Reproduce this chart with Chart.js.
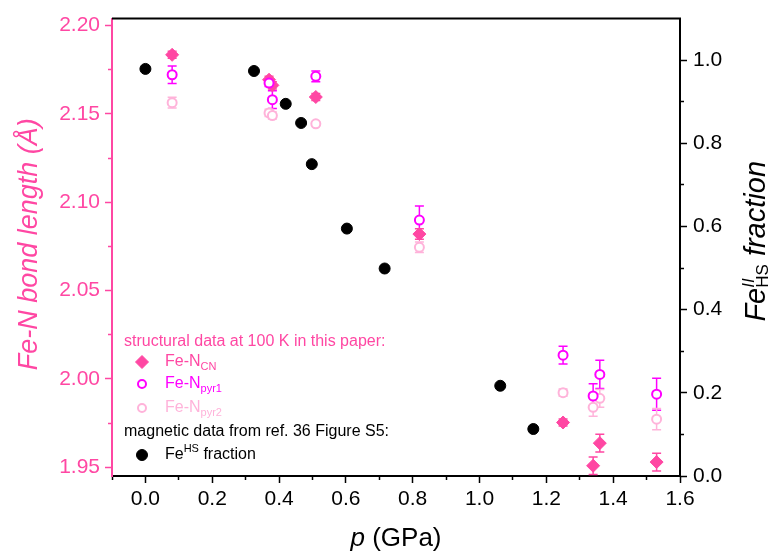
<!DOCTYPE html>
<html>
<head>
<meta charset="utf-8">
<script src="https://cdn.jsdelivr.net/npm/chart.js@4.4.1/dist/chart.umd.min.js"></script>
<style>
  html, body { margin: 0; padding: 0; background: #fff; }
</style>
</head>
<body>
<canvas id="grafico" width="768" height="553"></canvas>
<script>
// pressoes (GPa) das medidas estruturais a 100 K
const pressaoEstrutura = [0.08, 0.37, 0.38, 0.51, 0.82, 1.25, 1.34, 1.36, 1.53];
// comprimentos Fe-N (Å) e barras de erro
const feNCN    = [2.1835, 2.1694, 2.1662, 2.1596, 2.0820, 1.9753, 1.9508, 1.9636, 1.9529];
const erroCN   = [0.002, 0.002, 0.002, 0.002, 0.003, 0.002, 0.005, 0.005, 0.005];
const feNpyr1  = [2.1722, 2.1675, 2.1581, 2.1713, 2.0899, 2.0134, 1.9903, 2.0025, 1.9913];
const erroPyr1 = [0.005, 0.002, 0.005, 0.003, 0.008, 0.005, 0.007, 0.008, 0.009];
const feNpyr2  = [2.1564, 2.1506, 2.1491, 2.1444, 2.0745, 1.9922, 1.9839, 1.9890, 1.9772];
const erroPyr2 = [0.003, 0.002, 0.002, 0.001, 0.003, 0.002, 0.005, 0.005, 0.006];
// dados magneticos (ref. 36, Figure S5)
const pressaoMag = [0, 0.325, 0.42, 0.466, 0.498, 0.603, 0.716, 1.062, 1.161];
const fracaoHS   = [0.979, 0.974, 0.895, 0.849, 0.750, 0.595, 0.499, 0.217, 0.113];

// ticks
const ticksX   = [0, 0.2, 0.4, 0.6, 0.8, 1.0, 1.2, 1.4, 1.6];
const menorX   = [-0.1, 0.1, 0.3, 0.5, 0.7, 0.9, 1.1, 1.3, 1.5];
const ticksY   = [1.95, 2.00, 2.05, 2.10, 2.15, 2.20];
const menorY   = [1.975, 2.025, 2.075, 2.125, 2.175];
const ticksY2  = [0, 0.2, 0.4, 0.6, 0.8, 1.0];
const menorY2  = [0.1, 0.3, 0.5, 0.7, 0.9];

const ROSA = '#FF47A3';
const MAGENTA = '#FF00FF';
const ROSA_CLARO = '#FFB3DA';
const FONTE = "'Liberation Sans', Arial, sans-serif";

const pontos = (xs, ys) => xs.map((x, i) => ({ x: x, y: ys[i] }));

function eixoMenor(axis, position, min, max, valores, cor) {
    return {
        type: 'linear', axis: axis, position: position, min: min, max: max, weight: 0,
        afterBuildTicks: s => { s.ticks = valores.map(v => ({ value: v })); },
        ticks: { display: false },
        grid: { drawOnChartArea: false, drawTicks: true, tickLength: 4, tickColor: cor, tickWidth: 1.5 },
        border: { display: false },
        afterFit: s => { if (axis === 'x') s.height = 0; else s.width = 0; }
    };
}

// barras de erro desenhadas pelas escalas do grafico
const barrasErro = {
    id: 'barrasErro',
    beforeDatasetsDraw(chart) {
        const ctx = chart.ctx;
        chart.data.datasets.forEach(ds => {
            if (!ds.erros) return;
            const sx = chart.scales[ds.xAxisID || 'x'];
            const sy = chart.scales[ds.yAxisID || 'y'];
            ctx.save();
            ctx.strokeStyle = ds.borderColor;
            ctx.lineWidth = 1.5;
            ds.data.forEach((p, i) => {
                const e = ds.erros[i];
                const px = sx.getPixelForValue(p.x);
                const y1 = sy.getPixelForValue(p.y - e);
                const y2 = sy.getPixelForValue(p.y + e);
                ctx.beginPath();
                ctx.moveTo(px, y1); ctx.lineTo(px, y2);
                ctx.moveTo(px - 4.5, y1); ctx.lineTo(px + 4.5, y1);
                ctx.moveTo(px - 4.5, y2); ctx.lineTo(px + 4.5, y2);
                ctx.stroke();
            });
            ctx.restore();
        });
    }
};

function escreve(ctx, x, y, partes, alinhar) {
    // partes: [texto, fonte, deslocamento vertical, avanca?]
    let total = 0;
    partes.forEach(p => { ctx.font = p[1]; if (p[3] !== false) total += ctx.measureText(p[0]).width; });
    let cx = alinhar === 'center' ? x - total / 2 : x;
    partes.forEach(p => {
        ctx.font = p[1];
        ctx.fillText(p[0], cx, y + (p[2] || 0));
        if (p[3] !== false) cx += ctx.measureText(p[0]).width;
    });
}

const textos = {
    id: 'textos',
    afterDraw(chart) {
        const ctx = chart.ctx;
        const a = chart.chartArea;
        const meioY = (a.top + a.bottom) / 2;
        ctx.save();

        // moldura superior
        ctx.strokeStyle = '#000';
        ctx.lineWidth = 2;
        ctx.beginPath();
        ctx.moveTo(a.left, a.top); ctx.lineTo(a.right + 1, a.top);
        ctx.stroke();

        // titulo eixo esquerdo
        ctx.save();
        ctx.translate(29, meioY - 3);
        ctx.rotate(-Math.PI / 2);
        ctx.fillStyle = ROSA;
        ctx.textAlign = 'center';
        ctx.textBaseline = 'middle';
        ctx.font = 'italic 27px ' + FONTE;
        ctx.fillText('Fe-N bond length (Å)', 0, 0);
        ctx.restore();

        // titulo eixo x
        ctx.fillStyle = '#000';
        ctx.textAlign = 'left';
        ctx.textBaseline = 'middle';
        escreve(ctx, (a.left + a.right) / 2, 539, [
            ['p', 'italic 26px ' + FONTE, 0],
            [' (GPa)', '26px ' + FONTE, 0]
        ], 'center');

        // titulo eixo direito
        ctx.save();
        ctx.translate(765, meioY - 6);
        ctx.rotate(-Math.PI / 2);
        ctx.textBaseline = 'alphabetic';
        escreve(ctx, 0, 0, [
            ['Fe', 'italic 29px ' + FONTE, 0],
            ['II', 'italic 17px ' + FONTE, -11, false],
            ['HS', '17px ' + FONTE, 3],
            [' fraction', 'italic 29px ' + FONTE, 0]
        ], 'center');
        ctx.restore();

        // legenda
        const lx = a.left + 12;
        const mx = a.left + 30;
        const tx = a.left + 53;
        const f16 = '16px ' + FONTE;
        const f11 = '11px ' + FONTE;
        ctx.textBaseline = 'middle';
        ctx.fillStyle = ROSA;
        escreve(ctx, lx, 342, [['structural data at 100 K in this paper:', f16, 0]]);

        ctx.fillStyle = ROSA; ctx.strokeStyle = ROSA; ctx.lineWidth = 1;
        Chart.helpers.drawPoint(ctx, { pointStyle: 'rectRot', radius: 6.5, borderWidth: 1 }, mx, 362);
        escreve(ctx, tx, 362, [['Fe-N', f16, 0], ['CN', f11, 5]]);

        ctx.fillStyle = '#fff'; ctx.strokeStyle = MAGENTA; ctx.lineWidth = 2;
        Chart.helpers.drawPoint(ctx, { pointStyle: 'circle', radius: 4, borderWidth: 2 }, mx, 384);
        ctx.fillStyle = MAGENTA;
        escreve(ctx, tx, 384, [['Fe-N', f16, 0], ['pyr1', f11, 5]]);

        ctx.fillStyle = '#fff'; ctx.strokeStyle = ROSA_CLARO; ctx.lineWidth = 2;
        Chart.helpers.drawPoint(ctx, { pointStyle: 'circle', radius: 4, borderWidth: 2 }, mx, 408);
        ctx.fillStyle = ROSA_CLARO;
        escreve(ctx, tx, 408, [['Fe-N', f16, 0], ['pyr2', f11, 5]]);

        ctx.fillStyle = '#000';
        escreve(ctx, lx, 432, [['magnetic data from ref. 36 Figure S5:', f16, 0]]);
        ctx.fillStyle = '#000'; ctx.strokeStyle = '#000'; ctx.lineWidth = 1;
        Chart.helpers.drawPoint(ctx, { pointStyle: 'circle', radius: 5.5, borderWidth: 1 }, mx, 455);
        ctx.fillStyle = '#000';
        escreve(ctx, tx, 455, [['Fe', f16, 0], ['HS', f11, -6], [' fraction', f16, 0]]);

        ctx.restore();
    }
};

const datasets = [
    {
        label: 'Fe-Npyr1', data: pontos(pressaoEstrutura, feNpyr1), erros: erroPyr1,
        yAxisID: 'y', pointStyle: 'circle', pointRadius: 4.5, pointBorderWidth: 2,
        borderColor: MAGENTA, pointBorderColor: MAGENTA, backgroundColor: '#fff', pointBackgroundColor: '#fff'
    },
    {
        label: 'Fe-NCN', data: pontos(pressaoEstrutura, feNCN), erros: erroCN,
        yAxisID: 'y', pointStyle: 'rectRot', pointRadius: 6.5, pointBorderWidth: 1,
        borderColor: ROSA, pointBorderColor: ROSA, backgroundColor: ROSA, pointBackgroundColor: ROSA
    },
    {
        label: 'Fe-Npyr2', data: pontos(pressaoEstrutura, feNpyr2), erros: erroPyr2,
        yAxisID: 'y', pointStyle: 'circle', pointRadius: 4.5, pointBorderWidth: 2,
        borderColor: ROSA_CLARO, pointBorderColor: ROSA_CLARO, backgroundColor: '#fff', pointBackgroundColor: '#fff'
    },
    {
        label: 'FeHS fraction', data: pontos(pressaoMag, fracaoHS),
        yAxisID: 'y2', pointStyle: 'circle', pointRadius: 5.5, pointBorderWidth: 1,
        borderColor: '#000', pointBorderColor: '#000', backgroundColor: '#000', pointBackgroundColor: '#000'
    }
];

new Chart(document.getElementById('grafico').getContext('2d'), {
    type: 'scatter',
    data: { datasets: datasets },
    options: {
        responsive: false,
        animation: false,
        events: [],
        layout: { padding: { top: 17, left: 0, right: 0, bottom: 0 } },
        plugins: { legend: { display: false }, tooltip: { enabled: false } },
        scales: {
            x: {
                type: 'linear', position: 'bottom', min: -0.1, max: 1.6, weight: 1,
                afterBuildTicks: s => { s.ticks = ticksX.map(v => ({ value: v })); },
                ticks: { color: '#000', font: { family: FONTE, size: 21 }, padding: 4, callback: v => v.toFixed(1) },
                grid: { drawOnChartArea: false, drawTicks: true, tickLength: 7, tickColor: '#000', tickWidth: 1.5 },
                border: { color: '#000', width: 2 },
                afterFit: s => { s.height = 77; }
            },
            xm: eixoMenor('x', 'bottom', -0.1, 1.6, menorX, '#000'),
            y: {
                type: 'linear', position: 'left', min: 1.945, max: 2.204, weight: 1,
                afterBuildTicks: s => { s.ticks = ticksY.map(v => ({ value: v })); },
                ticks: { color: ROSA, font: { family: FONTE, size: 21 }, padding: 5, callback: v => v.toFixed(2) },
                grid: { drawOnChartArea: false, drawTicks: true, tickLength: 7, tickColor: ROSA, tickWidth: 1.5 },
                border: { color: ROSA, width: 2 },
                afterFit: s => { s.width = 112; }
            },
            ym: eixoMenor('y', 'left', 1.945, 2.204, menorY, ROSA),
            y2: {
                type: 'linear', position: 'right', min: 0, max: 1.1, weight: 1,
                afterBuildTicks: s => { s.ticks = ticksY2.map(v => ({ value: v })); },
                ticks: { color: '#000', font: { family: FONTE, size: 21 }, padding: 6, callback: v => v.toFixed(1) },
                grid: { drawOnChartArea: false, drawTicks: true, tickLength: 7, tickColor: '#000', tickWidth: 1.5 },
                border: { color: '#000', width: 2 },
                afterFit: s => { s.width = 88; }
            },
            y2m: eixoMenor('y', 'right', 0, 1.1, menorY2, '#000')
        }
    },
    plugins: [barrasErro, textos]
});
</script>
</body>
</html>
